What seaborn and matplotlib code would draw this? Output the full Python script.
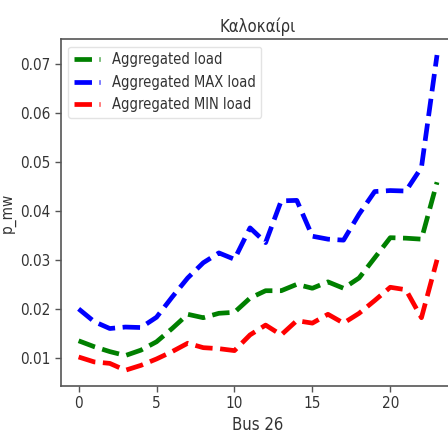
import matplotlib
matplotlib.use("Agg")
import matplotlib.pyplot as plt
import seaborn as sns
import pandas as pd

hours = list(range(24))
agg_load = [0.0136, 0.0124, 0.0114, 0.0106, 0.0117, 0.0134, 0.0161, 0.0190,
            0.0183, 0.0192, 0.0194, 0.0223, 0.0238, 0.0238, 0.0251, 0.0243,
            0.0256, 0.0243, 0.0264, 0.0305, 0.0346, 0.0345, 0.0343, 0.0459]
agg_max = [0.0201, 0.0175, 0.0161, 0.0164, 0.0163, 0.0184, 0.0225, 0.0264,
           0.0295, 0.0315, 0.0302, 0.0366, 0.0336, 0.0421, 0.0422, 0.0349,
           0.0343, 0.0341, 0.0394, 0.0440, 0.0442, 0.0441, 0.0489, 0.0718]
agg_min = [0.0103, 0.0093, 0.0090, 0.0076, 0.0086, 0.0099, 0.0114, 0.0131,
           0.0122, 0.0120, 0.0116, 0.0148, 0.0168, 0.0148, 0.0177, 0.0172,
           0.0190, 0.0172, 0.0192, 0.0218, 0.0245, 0.0240, 0.0183, 0.0301]
labels = ["Aggregated load", "Aggregated MAX load", "Aggregated MIN load"]
colors = ["green", "blue", "red"]
title = "Καλοκαίρι"
xlabel = "Bus 26"
ylabel = "p_mw"

sns.set_style("white")
plt.rcParams["font.family"] = ["DejaVu Sans"]
plt.rcParams["font.stretch"] = "condensed"
plt.rcParams["text.color"] = "#333333"
plt.rcParams["axes.labelcolor"] = "#333333"
plt.rcParams["xtick.color"] = "#333333"
plt.rcParams["ytick.color"] = "#333333"

df = pd.DataFrame({"hour": hours, labels[0]: agg_load, labels[1]: agg_max, labels[2]: agg_min})

fig = plt.figure(figsize=(4.48, 4.38), dpi=100)
ax = fig.add_axes([0.1355, 0.1187, 0.880, 0.7916])

for lab, col in zip(labels, colors):
    sns.lineplot(data=df, x="hour", y=lab, ax=ax, color=col, linestyle="--",
                 linewidth=3.4, label=lab)

ax.margins(x=0.05, y=0.05)
ax.set_title(title, fontsize=12, pad=5)
ax.set_xlabel(xlabel, fontsize=12, labelpad=3)
ax.set_ylabel(ylabel, fontsize=11, labelpad=3)
ax.set_xticks([0, 5, 10, 15, 20])
ax.set_yticks([0.01, 0.02, 0.03, 0.04, 0.05, 0.06, 0.07])
ax.tick_params(axis="both", labelsize=11, length=4, width=1, left=True, bottom=True, color="#555555")
for sp in ax.spines.values():
    sp.set_color("#555555")
    sp.set_linewidth(1.2)
leg = ax.legend(loc="upper left", fontsize=10.5, handlelength=1.8, frameon=True)
leg.get_frame().set_edgecolor("#dddddd")

fig.savefig("out.png", dpi=100)
